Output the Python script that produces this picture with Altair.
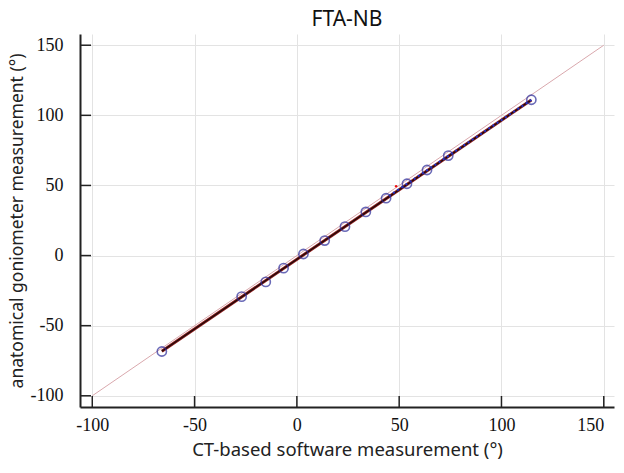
import altair as alt
import pandas as pd

# Measured points (CT-based software vs anatomical goniometer)
ct_values = [-66.0, -27.0, -15.2, -6.5, 3.2, 13.6, 23.5, 33.7, 43.6, 53.8, 63.6, 74.0, 114.6]
gonio_values = [-68.4, -29.3, -18.8, -9.0, 1.1, 10.7, 20.6, 31.1, 40.9, 51.2, 61.0, 71.3, 111.1]

# Fitted regression line end points
fit_x = [-66.0, 114.6]
fit_y = [-68.2, 111.0]

# Dotted blue segment of the fit
dot_x = [45.0, 114.6]
dot_y = [42.5, 111.0]

# Identity line
ident_x = [-100, 150]
ident_y = [-100, 150]

# Small red marker
red_x = [48.5]
red_y = [49.4]

tick_vals = [-100, -50, 0, 50, 100, 150]

W, H = 534, 373
xdom = [-106, 155]
ydom = [-108, 158]

pts = pd.DataFrame({"x": ct_values, "y": gonio_values})
fit = pd.DataFrame({"x": fit_x, "y": fit_y})
dots = pd.DataFrame({"x": dot_x, "y": dot_y})
ident = pd.DataFrame({"x": ident_x, "y": ident_y})
red = pd.DataFrame({"x": red_x, "y": red_y})
ticks = pd.DataFrame({"v": tick_vals})

xs = alt.Scale(domain=xdom, nice=False, zero=False)
ys = alt.Scale(domain=ydom, nice=False, zero=False)

SANS = "Noto Sans"
SERIF = "Liberation Serif"

xaxis = alt.Axis(values=tick_vals, title="CT-based software measurement (°)", tickSize=0,
                 labelExpr="datum.value + ''", labelFlush=11,
                 labelFont=SERIF, labelFontSize=18, labelColor="#111",
                 labelPadding=9, titleFont=SANS, titleFontSize=18.5, titleColor="#222",
                 titleFontWeight="normal", titlePadding=6, domainColor="#222", domainWidth=2,
                 gridColor="#e3e3e3", gridWidth=1)
yaxis = alt.Axis(values=tick_vals, title="anatomical goniometer measurement (°)", tickSize=0,
                 labelExpr="datum.value + ''",
                 labelFont=SERIF, labelFontSize=18, labelColor="#111",
                 labelPadding=17, titleFont=SANS, titleFontSize=17.5, titleColor="#222",
                 titleFontWeight="normal", titlePadding=4, domainColor="#222", domainWidth=2,
                 gridColor="#e3e3e3", gridWidth=1)

base_x = alt.X("x:Q", scale=xs, axis=xaxis)
base_y = alt.Y("y:Q", scale=ys, axis=yaxis)

ident_line = alt.Chart(ident).mark_line(color="#d9a8ad", strokeWidth=1).encode(x=base_x, y=base_y)
fit_red = alt.Chart(fit).mark_line(color="#8b1a1a", strokeWidth=3).encode(x="x:Q", y="y:Q")
fit_black = alt.Chart(fit).mark_line(color="#1a0a0a", strokeWidth=1.2).encode(x="x:Q", y="y:Q")
dot_line = alt.Chart(dots).mark_line(color="#2233cc", strokeWidth=2, strokeDash=[2, 3]).encode(x="x:Q", y="y:Q")
circles = alt.Chart(pts).mark_point(shape="circle", filled=False, color="#2b2b99",
                                    strokeWidth=1.6, size=85).encode(x="x:Q", y="y:Q")
red_pt = alt.Chart(red).mark_point(shape="circle", filled=True, color="#ee1111",
                                   size=6, opacity=1).encode(x="x:Q", y="y:Q")

xticks = alt.Chart(ticks).mark_rule(color="#222", strokeWidth=1.5).encode(
    x=alt.X("v:Q", scale=xs), y=alt.value(H), y2=alt.value(H - 11))
yticks = alt.Chart(ticks).mark_rule(color="#222", strokeWidth=1.5).encode(
    y=alt.Y("v:Q", scale=ys), x=alt.value(0), x2=alt.value(11))

chart = alt.layer(ident_line, fit_red, fit_black, dot_line, circles, red_pt, xticks, yticks).properties(
    width=W, height=H,
    title=alt.TitleParams("FTA-NB", font=SANS, fontSize=21, fontWeight="normal",
                          color="#111", anchor="middle", offset=4),
    autosize=alt.AutoSizeParams(type="none"),
    padding={"left": 72, "top": 26, "right": 2, "bottom": 58},
).configure_view(stroke=None).configure_axisX(orient="bottom").configure_axisY(orient="left")

chart.save("out.html", embed_options={"renderer": "svg", "actions": False})
